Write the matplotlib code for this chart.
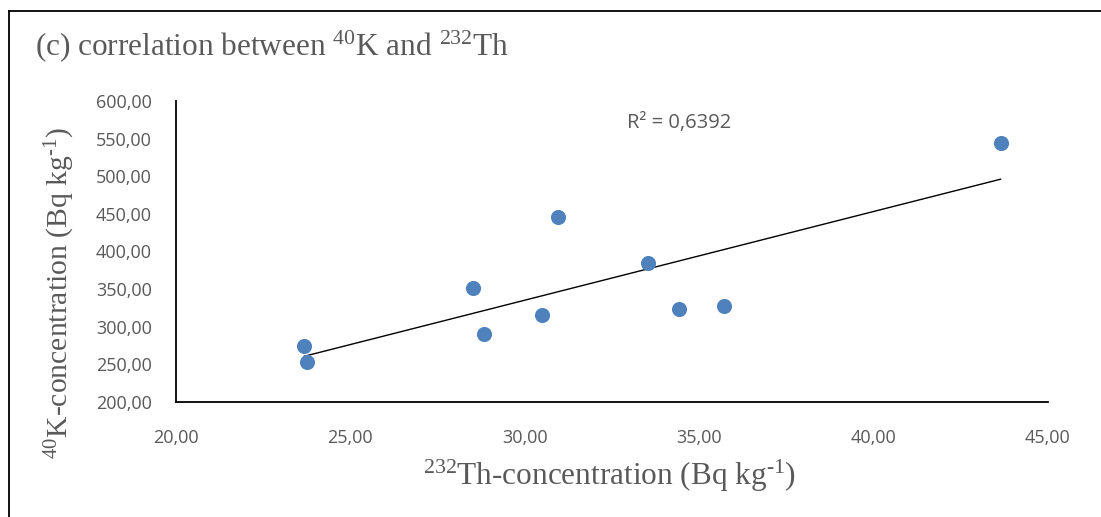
import matplotlib
matplotlib.use("Agg")
import matplotlib.pyplot as plt
import numpy as np

th232 = [23.68, 23.75, 28.51, 28.83, 30.50, 30.95, 33.54, 34.42, 35.71, 43.64]
k40 = [274.1, 253.2, 351.7, 290.5, 314.9, 445.7, 384.9, 323.3, 327.3, 543.8]
x_ticks = [20, 25, 30, 35, 40, 45]
y_ticks = [200, 250, 300, 350, 400, 450, 500, 550, 600]
r2_label = "R² = 0,6392"
title = r"(c) correlation between $^{40}$K and $^{232}$Th"
xlabel = r"$^{232}$Th-concentration (Bq kg$^{\text{-}1}$)"
ylabel = r"$^{40}$K-concentration (Bq kg$^{\text{-}1}$)"

plt.rcParams['mathtext.fontset'] = 'custom'
plt.rcParams['mathtext.rm'] = 'Liberation Serif'
plt.rcParams['mathtext.it'] = 'Liberation Serif'

W, H = 1101, 517
fig = plt.figure(figsize=(W / 100, H / 100), dpi=100)
ax = fig.add_axes([175.7 / W, 1 - 401.7 / H, (1048 - 175.7) / W, (401.7 - 101) / H])

ax.scatter(th232, k40, s=118, color="#4F81BD", zorder=3, linewidths=0)
xs = np.array(th232)
ys = np.array(k40)
m, b = np.polyfit(xs, ys, 1)
xl = np.array([xs.min(), xs.max()])
ax.plot(xl, m * xl + b, color="black", lw=1.0, zorder=2)

ax.set_xlim(20, 45)
ax.set_ylim(200, 600)
ax.set_xticks(x_ticks)
ax.set_yticks(y_ticks)
fmt = lambda v: f"{v:.2f}".replace(".", ",")
ax.set_xticklabels([fmt(v) for v in x_ticks])
ax.set_yticklabels([fmt(v) for v in y_ticks])
for s in ["top", "right"]:
    ax.spines[s].set_visible(False)
for s in ["left", "bottom"]:
    ax.spines[s].set_linewidth(1.3)
    ax.spines[s].set_color("black")
ax.tick_params(length=0, labelsize=13, labelcolor="#595959")
ax.tick_params(axis="y", pad=17)
ax.tick_params(axis="x", pad=20)
for lab in ax.get_xticklabels() + ax.get_yticklabels():
    lab.set_fontfamily("Open Sans")

ax.text(627 / W, 1 - 123 / H, r2_label, transform=fig.transFigure, fontsize=14.5,
        color="#595959", family="Open Sans", va="center", ha="left")

fig.text(35 / W, 1 - 46 / H, title, fontsize=22.5, family="Liberation Serif",
         color="#595959", va="center", ha="left")
fig.text(610 / W, 1 - 476 / H, xlabel, fontsize=22.5, family="Liberation Serif",
         color="#595959", va="center", ha="center")
fig.text(60 / W, 1 - 293 / H, ylabel, fontsize=21.3, family="Liberation Serif",
         color="#595959", va="center", ha="center", rotation=90)

# outer frame (left and top edges visible)
fig.add_artist(plt.Line2D([8.5 / W, 8.5 / W], [0, 1 - 11 / H], transform=fig.transFigure,
                          color="black", lw=1.3))
fig.add_artist(plt.Line2D([8.5 / W, 1], [1 - 11 / H, 1 - 11 / H], transform=fig.transFigure,
                          color="black", lw=1.3))

fig.savefig("out.png", dpi=100)
